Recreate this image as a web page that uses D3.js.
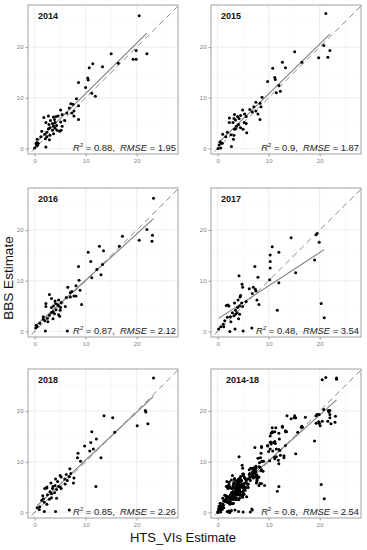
<!DOCTYPE html>
<html lang="en"><head><meta charset="UTF-8">
<title>BBS vs HTS_VIs</title>
<script src="https://d3js.org/d3.v7.min.js"></script>
<style>
  body { margin: 0; background: #fff; }
  text { font-family: "Liberation Sans", Arial, sans-serif; }
</style>
</head>
<body>
<script>
// points, [HTS_VIs, BBS]
var pts2014 = [[20.5,26.2],[15.0,18.7],[19.9,19.3],[22.0,18.7],[16.4,16.8],[19.3,17.6],[19.9,17.6],[11.4,16.7],[10.7,15.9],[13.3,16.1],
  [10.4,13.9],[10.5,13.5],[8.6,13.0],[10.0,12.0],[11.2,10.9],[11.9,10.3],[8.2,9.8],[7.1,8.8],[7.5,8.7],[8.6,8.4],
  [6.8,8.0],[5.1,7.6],[7.7,7.4],[7.3,7.0],[6.3,7.0],[5.4,6.7],[7.7,6.4],[4.6,6.4],[4.2,6.3],[3.7,6.2],
  [2.7,6.4],[1.8,6.1],[8.6,5.7],[5.9,5.5],[5.1,5.2],[3.1,5.5],[3.9,5.7],[2.2,5.1],[4.0,5.1],[3.5,4.9],
  [2.8,4.7],[4.3,4.5],[5.4,4.4],[3.7,4.4],[3.0,4.1],[4.0,4.0],[2.7,3.9],[3.5,3.6],[4.4,3.6],[4.9,3.4],
  [5.2,3.6],[1.4,3.4],[2.4,3.2],[3.7,2.9],[2.0,2.8],[3.0,2.6],[1.2,2.3],[2.4,2.3],[2.1,1.9],[0.5,1.8],
  [2.9,1.7],[0.4,1.1],[0.3,0.9],[0.6,0.7],[0.4,0.5],[0.7,1.0],[2.2,0.3],[0.0,0.1]];

var pts2015 = [[21.2,26.6],[15.1,19.1],[20.8,20.3],[22.0,19.3],[19.8,17.9],[21.6,18.0],[16.5,17.0],[12.7,17.0],[10.8,15.8],[13.3,15.9],
  [11.2,14.0],[11.3,13.6],[9.8,13.2],[12.0,12.4],[12.3,11.3],[11.5,11.0],[8.7,10.1],[7.5,9.1],[8.3,8.9],[7.1,8.2],
  [8.5,8.2],[6.3,7.7],[4.9,7.6],[7.5,7.4],[6.8,7.2],[7.9,6.8],[3.3,6.7],[5.3,6.8],[4.5,6.5],[3.9,6.3],
  [2.3,6.0],[5.6,6.3],[8.3,5.7],[3.2,5.9],[4.2,5.9],[3.5,5.6],[2.3,5.1],[5.2,5.1],[3.0,5.1],[4.1,4.7],
  [5.6,4.9],[3.7,4.4],[4.5,4.1],[3.5,3.9],[3.3,3.8],[5.0,3.8],[5.7,3.1],[1.9,3.2],[1.0,2.8],[2.6,2.7],
  [3.2,2.6],[1.6,2.3],[3.1,1.8],[0.5,1.3],[0.7,1.0],[0.3,0.7],[0.9,1.0],[2.7,0.4],[0.6,0.1],[0.1,0.0]];

var pts2016 = [[23.3,26.3],[22.0,20.1],[23.1,19.0],[20.5,18.0],[23.0,17.8],[17.2,18.8],[16.6,16.8],[12.7,16.8],[10.5,15.6],[13.5,15.9],
  [11.0,13.8],[8.6,12.8],[12.2,12.2],[13.3,13.2],[13.0,11.2],[11.2,10.6],[8.7,10.1],[8.1,9.0],[8.9,8.1],[6.5,8.7],
  [7.3,7.9],[7.0,7.7],[7.7,7.0],[8.1,7.0],[7.0,6.8],[6.2,6.7],[2.9,7.3],[3.3,6.5],[4.7,6.2],[4.0,6.0],
  [5.2,5.7],[2.2,5.5],[4.1,5.5],[4.5,5.3],[9.2,5.3],[2.2,4.9],[3.7,5.0],[4.7,5.0],[6.0,4.9],[3.3,4.7],
  [5.1,4.7],[4.2,4.3],[5.0,4.2],[3.6,3.9],[3.3,3.7],[3.9,3.5],[4.7,3.3],[2.9,3.2],[1.7,2.9],[4.9,3.0],
  [2.5,2.6],[3.6,2.5],[1.7,2.4],[2.0,2.1],[2.6,1.9],[1.0,1.6],[0.3,1.2],[0.5,0.9],[0.2,0.7],[2.1,0.1],[6.4,0.1]];

var pts2017 = [[19.5,19.3],[19.3,19.1],[14.4,18.5],[19.9,17.6],[10.7,16.7],[10.3,15.1],[12.0,15.6],[10.3,13.8],[10.3,12.5],[7.3,12.8],
  [4.2,11.0],[7.9,10.7],[10.2,10.2],[15.3,11.6],[19.0,14.1],[12.0,9.6],[7.0,8.7],[6.2,8.4],[7.4,8.3],[4.8,9.3],
  [4.9,8.7],[6.8,7.5],[7.5,8.0],[4.5,7.1],[7.7,6.2],[8.1,5.3],[5.6,5.9],[4.0,6.2],[3.3,5.6],[4.4,6.8],
  [4.7,5.6],[4.3,5.0],[4.9,4.9],[3.9,4.7],[1.7,5.1],[2.2,5.0],[2.0,5.2],[3.5,4.2],[2.9,3.7],[3.5,3.4],
  [3.8,3.7],[3.2,3.1],[2.5,2.9],[1.9,2.8],[4.3,3.4],[4.1,2.5],[1.4,2.1],[2.6,1.9],[1.1,1.4],[1.2,0.9],
  [0.6,0.9],[0.2,0.5],[3.4,0.5],[2.4,0.0],[5.0,0.1],[6.7,0.7],[11.7,4.2],[20.3,5.5],[20.9,2.7]];

var pts2018 = [[23.3,26.5],[13.6,19.1],[15.3,18.7],[21.7,20.1],[21.8,19.8],[20.1,17.1],[22.2,17.5],[15.7,15.8],[11.2,15.9],[12.1,14.5],
  [11.0,13.8],[9.8,13.1],[11.5,12.5],[10.8,12.1],[8.5,11.7],[8.4,10.8],[13.0,10.8],[9.0,10.1],[6.9,8.6],[6.2,7.5],
  [7.1,7.7],[7.7,6.8],[5.0,7.3],[5.2,7.0],[4.1,6.6],[3.2,5.8],[4.5,6.1],[7.6,5.8],[6.8,7.1],[5.9,6.6],
  [6.4,6.3],[3.6,5.1],[4.0,5.3],[4.7,5.1],[5.0,5.0],[5.2,4.7],[6.0,5.6],[2.4,4.8],[2.0,4.7],[2.4,5.0],
  [3.5,4.7],[4.3,4.5],[3.0,4.1],[3.3,3.7],[3.9,3.9],[2.5,3.5],[1.6,3.3],[3.3,2.9],[1.7,2.7],[2.9,2.6],
  [4.3,2.8],[1.9,2.0],[1.4,2.4],[2.4,1.6],[1.0,1.1],[0.5,0.9],[0.9,0.6],[1.9,0.2],[4.1,0.2],[6.8,0.5],[12.0,5.1]];

var years = ["2014", "2015", "2016", "2017", "2018", "2014-18"];
var r2 = ["0.88", "0.9", "0.87", "0.48", "0.85", "0.8"];
var rmse = ["1.95", "1.87", "2.12", "3.54", "2.26", "2.54"];
var allPts = pts2014.concat(pts2015, pts2016, pts2017, pts2018);
var series = [pts2014, pts2015, pts2016, pts2017, pts2018, allPts];
var tickVals = [0, 10, 20];

var W = 367, H = 550;
var pw = 150, ph = 149;
var lefts = [28, 211], tops = [5, 188, 369];

var svg = d3.select("body").append("svg")
  .attr("width", W).attr("height", H);

var x = d3.scaleLinear().domain([-1.3, 28.1]).range([0, pw]);
var y = d3.scaleLinear().domain([-1.1, 28.3]).range([ph, 0]);

function fit(d) {
  var mx = d3.mean(d, function(p) { return p[0]; });
  var my = d3.mean(d, function(p) { return p[1]; });
  var sxy = d3.sum(d, function(p) { return (p[0] - mx) * (p[1] - my); });
  var sxx = d3.sum(d, function(p) { return (p[0] - mx) * (p[0] - mx); });
  var b = sxy / sxx;
  return { b: b, a: my - b * mx };
}

years.forEach(function(yr, i) {
  var g = svg.append("g")
    .attr("transform", "translate(" + lefts[i % 2] + "," + tops[Math.floor(i / 2)] + ")");
  var d = series[i];

  g.append("clipPath").attr("id", "clip" + i)
    .append("rect").attr("width", pw).attr("height", ph);

  // grid: minor then major
  [5, 15, 25].forEach(function(v) {
    g.append("line").attr("x1", x(v)).attr("x2", x(v)).attr("y1", 0).attr("y2", ph)
      .attr("stroke", "#f2f2f2").attr("stroke-width", 0.5);
    g.append("line").attr("x1", 0).attr("x2", pw).attr("y1", y(v)).attr("y2", y(v))
      .attr("stroke", "#f2f2f2").attr("stroke-width", 0.5);
  });
  tickVals.forEach(function(v) {
    g.append("line").attr("x1", x(v)).attr("x2", x(v)).attr("y1", 0).attr("y2", ph)
      .attr("stroke", "#e8e8e8").attr("stroke-width", 0.8);
    g.append("line").attr("x1", 0).attr("x2", pw).attr("y1", y(v)).attr("y2", y(v))
      .attr("stroke", "#e8e8e8").attr("stroke-width", 0.8);
  });

  var inner = g.append("g").attr("clip-path", "url(#clip" + i + ")");

  // 1:1 line
  inner.append("line")
    .attr("x1", x(-2)).attr("y1", y(-2)).attr("x2", x(30)).attr("y2", y(30))
    .attr("stroke", "#8c8c8c").attr("stroke-width", 1)
    .attr("stroke-dasharray", "6,4");

  // linear fit over data range
  var f = fit(d);
  var xe = d3.extent(d, function(p) { return p[0]; });
  inner.append("line")
    .attr("x1", x(xe[0])).attr("y1", y(f.a + f.b * xe[0]))
    .attr("x2", x(xe[1])).attr("y2", y(f.a + f.b * xe[1]))
    .attr("stroke", "#7d7d7d").attr("stroke-width", 1.1);

  inner.selectAll("circle").data(d).enter().append("circle")
    .attr("cx", function(p) { return x(p[0]); })
    .attr("cy", function(p) { return y(p[1]); })
    .attr("r", 1.5)
    .attr("fill", "#000");

  g.append("rect").attr("width", pw).attr("height", ph)
    .attr("fill", "none").attr("stroke", "#a0a0a0").attr("stroke-width", 1);

  var xAxis = g.append("g").attr("transform", "translate(0," + ph + ")")
    .call(d3.axisBottom(x).tickValues(tickVals).tickSize(2.5).tickPadding(2));
  var yAxis = g.append("g")
    .call(d3.axisLeft(y).tickValues(tickVals).tickSize(2.5).tickPadding(2));
  [xAxis, yAxis].forEach(function(a) {
    a.select(".domain").remove();
    a.selectAll("line").attr("stroke", "#999");
    a.selectAll("text").attr("fill", "#808080").attr("font-size", "6px")
      .attr("font-family", "Liberation Sans, Arial, sans-serif");
  });

  g.append("text")
    .attr("x", i === 5 ? 15 : 10).attr("y", 14)
    .attr("font-size", "9px").attr("font-weight", "bold")
    .attr("fill", "#111")
    .text(yr);

  var t = g.append("text")
    .attr("x", pw - 2).attr("y", ph - 3.5)
    .attr("text-anchor", "end")
    .attr("font-size", "9.4px").attr("fill", "#222");
  t.append("tspan").attr("font-style", "italic").text("R");
  t.append("tspan").attr("font-size", "6px").attr("dy", -4).text("2");
  t.append("tspan").attr("dy", 4).text(" = " + r2[i] + ",\u00a0 ");
  t.append("tspan").attr("font-style", "italic").text("RMSE");
  t.append("tspan").text(" = " + rmse[i]);
});

svg.append("text")
  .attr("x", 183).attr("y", 542)
  .attr("text-anchor", "middle")
  .attr("font-size", "13px").attr("fill", "#111")
  .text("HTS_VIs Estimate");

svg.append("text")
  .attr("transform", "translate(13,278) rotate(-90)")
  .attr("text-anchor", "middle")
  .attr("font-size", "13.5px").attr("fill", "#111")
  .text("BBS Estimate");
</script>
</body>
</html>
